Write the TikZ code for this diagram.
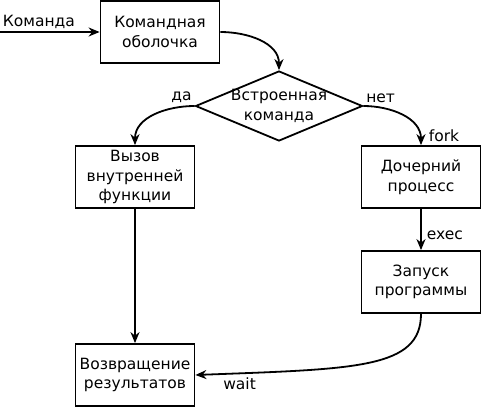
\documentclass[tikz,border=0pt]{standalone}
\usepackage{fontspec}
\setmainfont{DejaVu Sans}
\usetikzlibrary{shapes.geometric,arrows.meta}
\begin{document}
\begin{tikzpicture}[x=1pt,y=-1pt,node distance={105pt},font=\fontsize{15.5}{19.5}\selectfont,line width=1.8pt,>={Stealth[length=11pt,width=9pt]}]
	\tikzstyle{bx}=[rectangle, draw, minimum width=119pt, minimum height=62pt, align=center, inner sep=2pt]
	\tikzstyle{dm}=[diamond, draw, aspect=2.4, minimum width=167pt, minimum height=70pt, align=center, inner sep=-6pt]
	\tikzstyle{lb}=[inner sep=2pt]

	\useasboundingbox (0,0) rectangle (483,407);

	\coordinate (in) at (0,32);
	\node[bx] (shell) at (160,32) {Командная\\оболочка};
	\node[dm] (check) at (279,106) {Встроенная\\команда};
	\node[bx] (call) at (135,177) {Вызов\\внутренней\\функции};
	\node[bx] (ret) [below of=call, node distance=198pt] {Возвращение\\результатов};
	\node[bx] (child) at (421,177) {Дочерний\\процесс};
	\node[bx] (prog) [below of=child] {Запуск\\программы};

	\draw [->] (in) -- node[lb, above, pos=0.39] {Команда} (shell);
	\draw [->] (shell.east) to[out=0, in=90] (check.north);
	\draw [->] (check.west) to[out=180, in=90] node[lb, pos=0, above left] {да} (call.north);
	\draw [->] (check.east) to[out=0, in=90] node[lb, pos=0, above right] {нет} (child.north);
	\node[lb, anchor=south west, xshift=5pt] (forklbl) at (child.north) {fork};
	\draw [->] (child) -- node[lb, right, pos=0.65, xshift=3pt] {exec} (prog);
	\draw [->] (call) -- (ret);
	\draw [->] (prog.south) .. controls +(0,55) and +(160,-6) .. (ret.east);
	\node[lb, anchor=north west, xshift=25pt] (waitlbl) at (ret.east) {wait};
\end{tikzpicture}
\end{document}
